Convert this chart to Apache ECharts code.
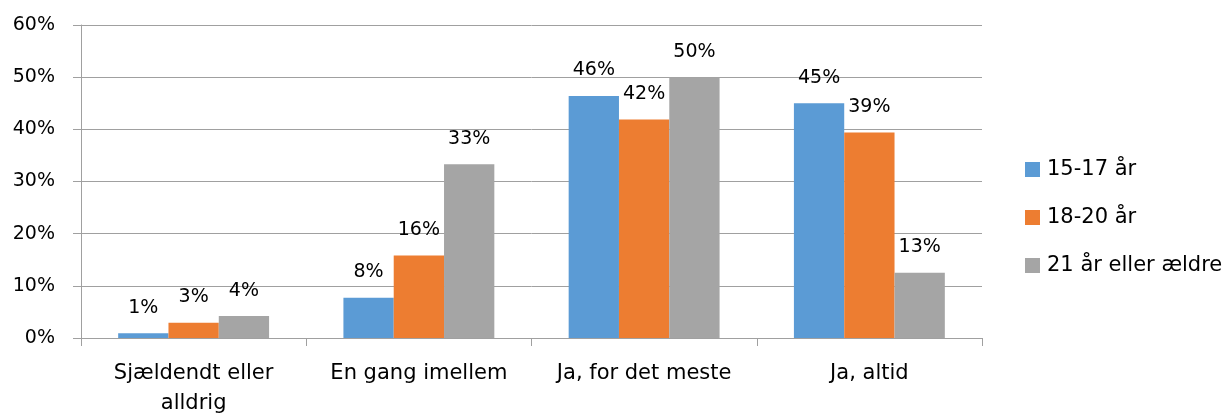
<!DOCTYPE html>
<html>
<head>
<meta charset="utf-8">
<script src="https://cdn.jsdelivr.net/npm/echarts@6/dist/echarts.min.js"></script>
<style>
  html, body { margin: 0; padding: 0; background: #fff; }
  #chart { width: 1225px; height: 416px; }
</style>
</head>
<body>
<div id="chart"></div>
<script>
  // kategorier og serier (procent)
  const categories = ['Sjældendt eller\nalldrig', 'En gang imellem', 'Ja, for det meste', 'Ja, altid'];
  const seriesNames = ['15-17 år', '18-20 år', '21 år eller ældre'];
  const age15to17 = [0.9, 7.7, 46.4, 45.0];
  const age18to20 = [2.9, 15.8, 41.9, 39.4];
  const age21plus = [4.2, 33.3, 50.0, 12.5];
  const colors = ['#5B9BD5', '#ED7D31', '#A5A5A5'];

  const font = 'DejaVu Sans';
  const numSize = 19;   // tal
  const textSize = 21;  // kategorier og forklaring
  const chart = echarts.init(document.getElementById('chart'));

  function barSeries(name, data, color) {
    return {
      name: name,
      type: 'bar',
      data: data,
      barGap: '0%',
      barCategoryGap: '33%',
      itemStyle: { color: color },
      label: {
        show: true,
        position: 'top',
        distance: 16,
        fontFamily: font,
        fontSize: numSize,
        color: '#000',
        formatter: p => Math.round(p.value) + '%'
      }
    };
  }

  chart.setOption({
    animation: false,
    color: colors,
    grid: { left: 81, right: 243, top: 25, bottom: 78, outerBoundsMode: 'none' },
    legend: {
      orient: 'vertical',
      left: 1025,
      top: 159,
      padding: 0,
      itemWidth: 15,
      itemHeight: 15,
      itemGap: 27,
      icon: 'rect',
      textStyle: { fontFamily: font, fontSize: textSize, color: '#000', padding: [0, 0, 0, 2] },
      data: seriesNames
    },
    xAxis: {
      type: 'category',
      data: categories,
      axisLine: { lineStyle: { color: '#A0A0A0', width: 1 } },
      axisTick: { show: true, length: 8, lineStyle: { color: '#A0A0A0' } },
      axisLabel: {
        fontFamily: font,
        fontSize: textSize,
        color: '#000',
        margin: 21,
        lineHeight: 30,
        interval: 0
      }
    },
    yAxis: {
      type: 'value',
      min: 0,
      max: 60,
      interval: 10,
      axisLine: { show: true, lineStyle: { color: '#A0A0A0', width: 1 } },
      axisTick: { show: true, length: 8, lineStyle: { color: '#A0A0A0' } },
      splitLine: { lineStyle: { color: '#A0A0A0', width: 1 } },
      axisLabel: {
        fontFamily: font,
        fontSize: numSize,
        color: '#000',
        margin: 26,
        formatter: '{value}%'
      }
    },
    series: [
      barSeries(seriesNames[0], age15to17, colors[0]),
      barSeries(seriesNames[1], age18to20, colors[1]),
      barSeries(seriesNames[2], age21plus, colors[2])
    ]
  });
</script>
</body>
</html>
